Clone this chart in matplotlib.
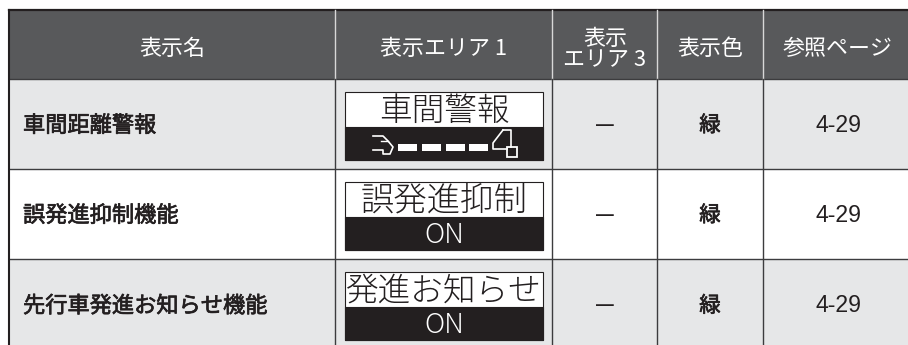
from __future__ import annotations

import matplotlib

matplotlib.use("Agg")
import matplotlib.patheffects as pe
import matplotlib.pyplot as plt
from matplotlib.patches import Rectangle

plt.rcParams["font.family"] = ["Noto Sans CJK JP", "DejaVu Sans"]

HEADERS = ["表示名", "表示エリア 1", "表示\nエリア 3", "表示色", "参照ページ"]
NAMES = ["車間距離警報", "誤発進抑制機能", "先行車発進お知らせ機能"]
AREA1_TOP = ["車間警報", "誤発進抑制", "発進お知らせ"]
AREA1_BOTTOM = [None, "ON", "ON"]
AREA3 = ["—", "—", "—"]
COLORS = ["緑", "緑", "緑"]
PAGES = ["4-29", "4-29", "4-29"]

COL_EDGES = [9, 335, 552, 657, 763, 908]
COL_CENTERS = [172, 444, 605, 710, 838]
ROW_EDGES = [79, 169, 259, 345]
ROW_TEXT_Y = [125.5, 215.5, 306]
HEADER_TOP = 10
BOX_LEFT, BOX_RIGHT = 345, 543
BOX_TOPS = [92, 182, 272]
BOX_MID = 35
BOX_HEIGHT = 68

HEAD_BG = "#58595b"
ROW_BG = "#e6e7e8"
LINE = "#3c3c3e"
DARK = "#231f20"


def draw_table(ax):
    ax.add_patch(Rectangle((COL_EDGES[0], HEADER_TOP), 908 - COL_EDGES[0], ROW_EDGES[0] - HEADER_TOP,
                           fc=HEAD_BG, ec="none"))
    ax.plot([COL_EDGES[0], 908], [HEADER_TOP, HEADER_TOP], color=DARK, lw=1.6)
    for i in range(3):
        fc = ROW_BG if i != 1 else "white"
        ax.add_patch(Rectangle((COL_EDGES[0], ROW_EDGES[i]), 908 - COL_EDGES[0], ROW_EDGES[i + 1] - ROW_EDGES[i],
                               fc=fc, ec="none"))
    for y in ROW_EDGES[:-1]:
        ax.plot([COL_EDGES[0], 908], [y, y], color=LINE, lw=1.0)
    ax.plot([COL_EDGES[0]] * 2, [HEADER_TOP, 345], color=DARK, lw=1.5)
    for x in COL_EDGES[1:-1]:
        ax.plot([x, x], [HEADER_TOP, ROW_EDGES[0]], color="#d8d8d8", lw=1.0)
        ax.plot([x, x], [ROW_EDGES[0], 345], color=LINE, lw=1.0)


def draw_cells(ax):
    # a thin stroke stands in for the medium weight the CJK font lacks here
    heavier = [pe.withStroke(linewidth=0.5, foreground=DARK)]
    for i, head in enumerate(HEADERS):
        y = 50 if "\n" in head else 49
        ax.text(COL_CENTERS[i], y, head, color="white", ha="center", va="center", fontsize=15.8,
                linespacing=0.95)
    for i in range(3):
        cy = ROW_TEXT_Y[i]
        ax.text(23, cy, NAMES[i], color=DARK, ha="left", va="center", fontsize=16, path_effects=heavier)
        ax.text(COL_CENTERS[2], cy - 0.5, AREA3[i], color=DARK, ha="center", va="center", fontsize=16)
        ax.text(COL_CENTERS[3], cy, COLORS[i], color=DARK, ha="center", va="center", fontsize=15.5,
                path_effects=heavier)
        ax.text(COL_CENTERS[4], cy, PAGES[i], color=DARK, ha="center", va="center", fontsize=16.6,
                family="Liberation Sans")


def draw_display(ax, i):
    top = BOX_TOPS[i]
    w = BOX_RIGHT - BOX_LEFT
    ax.add_patch(Rectangle((BOX_LEFT, top), w, BOX_HEIGHT, fc="white", ec=DARK, lw=0.8))
    ax.add_patch(Rectangle((BOX_LEFT, top + BOX_MID), w, BOX_HEIGHT - BOX_MID, fc=DARK, ec=DARK, lw=0.8))
    size = [23.5, 24, 23.5][i]
    ax.text((BOX_LEFT + BOX_RIGHT) / 2, top + 19.5, AREA1_TOP[i], color=DARK, ha="center", va="center",
            fontsize=size, fontweight="light")
    if AREA1_BOTTOM[i]:
        ax.text((BOX_LEFT + BOX_RIGHT) / 2, top + 53, AREA1_BOTTOM[i], color="white", ha="center", va="center",
                fontsize=20, fontweight="light")


def draw_following_icon(ax):
    # own car, gap bars, car ahead
    ax.plot([373, 383, 388, 393, 390, 383, 383, 373], [136, 136, 141, 147, 154, 154, 150, 150],
            color="white", lw=1.2)
    ax.plot([381, 388], [141, 141], color="white", lw=1.0)
    for x in [398, 422, 446, 469]:
        ax.add_patch(Rectangle((x, 144), 19, 7, fc="white", ec="none"))
    ax.plot([503, 511, 511], [130, 130, 147], color="white", lw=1.2)
    ax.plot([503, 493, 493, 507], [130, 143, 149, 149], color="white", lw=1.2)
    ax.add_patch(Rectangle((507, 147), 10, 10, fc=DARK, ec="white", lw=1.3))


def main() -> None:
    fig = plt.figure(figsize=(9.08, 3.45), dpi=100)
    ax = fig.add_axes([0, 0, 1, 1])
    ax.set_xlim(0, 908)
    ax.set_ylim(345, 0)
    ax.axis("off")
    draw_table(ax)
    draw_cells(ax)
    for i in range(3):
        draw_display(ax, i)
    draw_following_icon(ax)
    fig.savefig("out.png", dpi=100)
    plt.close(fig)


if __name__ == "__main__":
    main()
